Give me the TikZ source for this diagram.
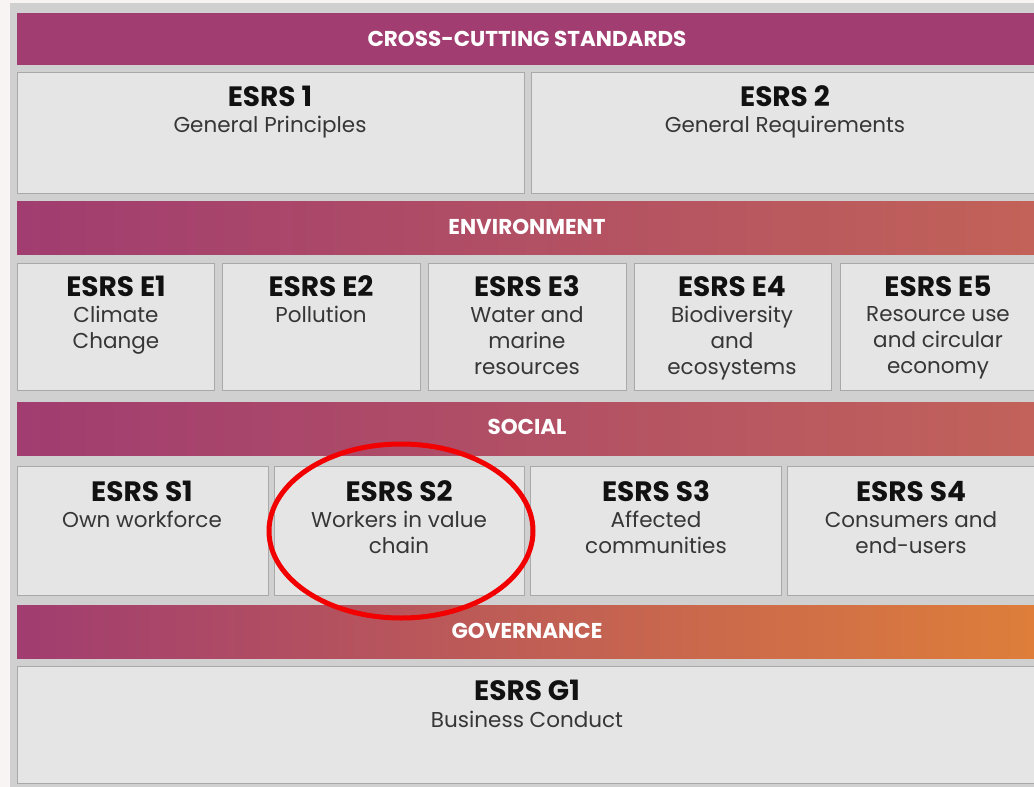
\documentclass[tikz,border=0pt]{standalone}
\usepackage{fontspec}
\setmainfont{Poppins}
\definecolor{pagebg}{HTML}{F7F4F3}
\definecolor{panel}{HTML}{D1D0D0}
\definecolor{boxfill}{HTML}{E5E5E5}
\definecolor{boxline}{HTML}{A9A9A9}
\definecolor{plum}{HTML}{A13D70}
\definecolor{envmid}{HTML}{B24E68}
\definecolor{envend}{HTML}{C26258}
\definecolor{socmid}{HTML}{B85463}
\definecolor{socend}{HTML}{C2625A}
\definecolor{govmid}{HTML}{C8665A}
\definecolor{govend}{HTML}{DE7E3A}
\definecolor{titletext}{HTML}{111111}
\definecolor{subtext}{HTML}{363636}
\definecolor{ringred}{HTML}{F20000}
\begin{document}
\begin{tikzpicture}[x=1pt,y=-1pt,
  stdbox/.style={draw=boxline, line width=1pt, fill=boxfill},
  bantext/.style={text=white, font=\fontsize{21.5}{24}\selectfont\bfseries, inner sep=0pt},
  titletxt/.style={text=titletext, font=\fontsize{28}{32}\selectfont\bfseries, inner sep=0pt, anchor=base},
  subtxt/.style={text=subtext, font=\fontsize{21.5}{26}\selectfont, align=center, inner sep=0pt, anchor=north}
]
\useasboundingbox (0,0) rectangle (1034,787);
\clip (0,0) rectangle (1034,787);
\fill[pagebg] (0,0) rectangle (1034,787);
\fill[panel] (10,3) rectangle (1050,800);

% Cross-cutting
\fill[plum] (17,13) rectangle (1050,65);
\node[bantext] (bcross) at (527,39) {CROSS-CUTTING STANDARDS};
\draw[stdbox] (17,72) rectangle (524,193);
\node[titletxt] (t1) at (270,106) {ESRS 1};
\node[subtxt] (s1) at (270,116) {General Principles};
\draw[stdbox] (531,72) rectangle (1050,193);
\node[titletxt] (t2) at (785,106) {ESRS 2};
\node[subtxt] (s2) at (785,116) {General Requirements};

% Environment
\shade[left color=plum, middle color=envmid, right color=envend] (17,201) rectangle (1034,254);
\node[bantext] (benv) at (527,227) {ENVIRONMENT};
\draw[stdbox] (17,263) rectangle (214,390);
\draw[stdbox] (222,263) rectangle (420,390);
\draw[stdbox] (428,263) rectangle (626,390);
\draw[stdbox] (634,263) rectangle (831,390);
\draw[stdbox] (840,263) rectangle (1050,390);
\node[titletxt] (te1) at (116,296) {ESRS E1};
\node[subtxt] (se1) at (116,306) {Climate\\Change};
\node[titletxt] (te2) at (321,296) {ESRS E2};
\node[subtxt] (se2) at (321,306) {Pollution};
\node[titletxt] (te3) at (527,296) {ESRS E3};
\node[subtxt] (se3) at (527,306) {Water and\\marine\\resources};
\node[titletxt] (te4) at (732,296) {ESRS E4};
\node[subtxt] (se4) at (732,306) {Biodiversity\\and\\ecosystems};
\node[titletxt] (te5) at (938,296) {ESRS E5};
\node[subtxt] (se5) at (938,306) {Resource use\\and circular\\economy};

% Social
\shade[left color=plum, middle color=socmid, right color=socend] (17,402) rectangle (1034,455);
\node[bantext] (bsoc) at (527,427) {SOCIAL};
\draw[stdbox] (17,466) rectangle (268,595);
\draw[stdbox] (274,466) rectangle (524,595);
\draw[stdbox] (530,466) rectangle (781,595);
\draw[stdbox] (787,466) rectangle (1050,595);
\node[titletxt] (ts1) at (142,501) {ESRS S1};
\node[subtxt] (ss1) at (142,511) {Own workforce};
\node[titletxt] (ts2) at (399,501) {ESRS S2};
\node[subtxt] (ss2) at (399,511) {Workers in value\\chain};
\node[titletxt] (ts3) at (656,501) {ESRS S3};
\node[subtxt] (ss3) at (656,511) {Affected\\communities};
\node[titletxt] (ts4) at (911,501) {ESRS S4};
\node[subtxt] (ss4) at (911,511) {Consumers and\\end-users};

% Governance
\shade[left color=plum, middle color=govmid, right color=govend] (17,605) rectangle (1034,658);
\node[bantext] (bgov) at (527,631) {GOVERNANCE};
\draw[stdbox] (17,666) rectangle (1050,783);
\node[titletxt] (tg1) at (527,700) {ESRS G1};
\node[subtxt] (sg1) at (527,711) {Business Conduct};

% Highlight ring
\draw[ringred, line width=5pt] (401,531) ellipse [x radius=132, y radius=87];
\end{tikzpicture}
\end{document}
